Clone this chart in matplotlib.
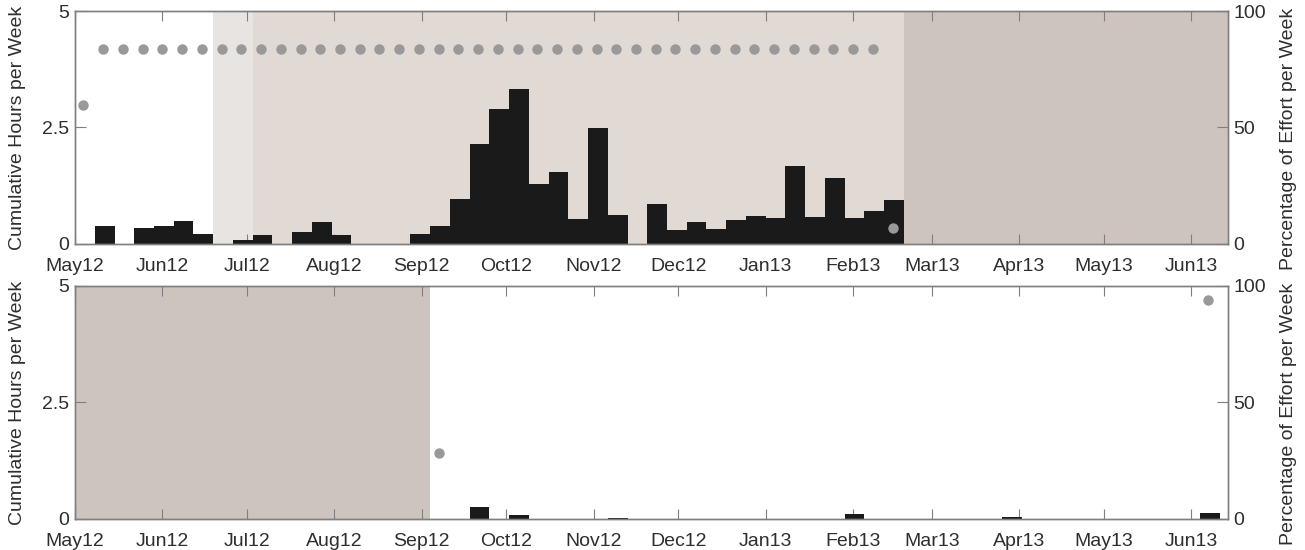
"""Weekly detection hours and effort, two sites, stacked panels."""

import datetime as dt

import matplotlib

matplotlib.use("Agg")
import matplotlib.dates as mdates
import matplotlib.pyplot as plt

BASE_DATE = dt.date(2012, 5, 1)
X_END = dt.date(2013, 6, 14)

# top panel: week index (weeks counted from BASE_DATE) -> cumulative hours
TOP_BAR_WEEKS = [1, 3, 4, 5, 6, 8, 9, 11, 12, 13, 17, 18, 19, 20, 21, 22, 23,
                 24, 25, 26, 27, 29, 30, 31, 32, 33, 34, 35, 36, 37, 38, 39,
                 40, 41]
TOP_BAR_HOURS = [0.39, 0.35, 0.39, 0.50, 0.21, 0.09, 0.19, 0.26, 0.47, 0.19,
                 0.22, 0.39, 0.97, 2.15, 2.89, 3.33, 1.29, 1.54, 0.54, 2.48,
                 0.63, 0.86, 0.29, 0.47, 0.33, 0.52, 0.59, 0.55, 1.68, 0.58,
                 1.42, 0.55, 0.70, 0.95]
TOP_EFFORT_WEEKS = list(range(0, 42))
TOP_EFFORT_PCT = [59.5] + [83.5] * 40 + [7.0]
# shaded periods (start week, end week, colour)
TOP_SPANS = [(7, 9, "#e8e4e1"), (9, 42, "#e0d9d4"), (42, 59, "#cec4bf")]

BOTTOM_BAR_WEEKS = [20, 22, 27, 39, 47, 57]
BOTTOM_BAR_HOURS = [0.25, 0.08, 0.03, 0.10, 0.04, 0.13]
BOTTOM_EFFORT_WEEKS = [18, 57]
BOTTOM_EFFORT_PCT = [28.5, 94.0]
BOTTOM_SPANS = [(0, 18, "#cec4bf")]

MONTH_TICKS = [dt.date(2012, m, 1) for m in range(5, 13)] + \
              [dt.date(2013, m, 1) for m in range(1, 7)]

BAR_COLOR = "#1a1a1a"
DOT_COLOR = "#999999"
SPINE_COLOR = "#7f7f7f"
TEXT_COLOR = "#2e2e2e"
FONT_SIZE = 14

plt.rcParams["font.family"] = ["Liberation Sans", "DejaVu Sans"]


def week_start(week):
    return BASE_DATE + dt.timedelta(days=7 * week)


def week_mid(week):
    return BASE_DATE + dt.timedelta(days=7 * week + 3.5)


def draw_panel(axis, bar_weeks, bar_hours, effort_weeks, effort_pct, spans):
    for start, end, color in spans:
        axis.axvspan(week_start(start), week_start(end), color=color,
                     linewidth=0, zorder=0)
    axis.bar([week_start(w) for w in bar_weeks], bar_hours,
             width=dt.timedelta(days=7), align="edge", color=BAR_COLOR,
             linewidth=0, zorder=2)
    axis.set_xlim(BASE_DATE, X_END)
    axis.set_ylim(0, 5)
    axis.set_yticks([0, 2.5, 5])
    axis.set_yticklabels(["0", "2.5", "5"])
    axis.set_xticks(MONTH_TICKS)
    axis.xaxis.set_major_formatter(mdates.DateFormatter("%b%y"))
    axis.tick_params(axis="x", direction="in", length=7, width=0.8,
                     color=SPINE_COLOR, labelsize=FONT_SIZE,
                     labelcolor=TEXT_COLOR, pad=10, top=True)
    axis.tick_params(axis="y", direction="in", length=8, width=0.8,
                     color=SPINE_COLOR, labelsize=FONT_SIZE,
                     labelcolor=TEXT_COLOR, pad=4)
    axis.set_ylabel("Cumulative Hours per Week", fontsize=FONT_SIZE,
                    color=TEXT_COLOR)
    axis.yaxis.set_label_coords(-0.0425, 0.5)
    for spine in axis.spines.values():
        spine.set_color(SPINE_COLOR)
        spine.set_linewidth(1.0)

    right = axis.twinx()
    right.plot([week_mid(w) for w in effort_weeks], effort_pct, linestyle="none",
               marker="o", markersize=7.5, color=DOT_COLOR,
               markeredgewidth=0, zorder=3)
    right.set_xlim(BASE_DATE, X_END)
    right.set_ylim(0, 100)
    right.set_yticks([0, 50, 100])
    right.tick_params(axis="y", direction="in", length=8, width=0.8,
                      color=SPINE_COLOR, labelsize=FONT_SIZE,
                      labelcolor=TEXT_COLOR, pad=4)
    right.set_ylabel("Percentage of Effort per Week", fontsize=FONT_SIZE,
                     color=TEXT_COLOR)
    right.yaxis.set_label_coords(1.045, 0.45)
    for spine in right.spines.values():
        spine.set_color(SPINE_COLOR)
        spine.set_linewidth(1.0)


figure = plt.figure(figsize=(13.05, 5.5), dpi=100)
top_axis = figure.add_axes([0.0575, 0.5564, 0.8835, 0.4236])
bottom_axis = figure.add_axes([0.0575, 0.0564, 0.8835, 0.4236])

draw_panel(top_axis, TOP_BAR_WEEKS, TOP_BAR_HOURS, TOP_EFFORT_WEEKS,
           TOP_EFFORT_PCT, TOP_SPANS)
draw_panel(bottom_axis, BOTTOM_BAR_WEEKS, BOTTOM_BAR_HOURS,
           BOTTOM_EFFORT_WEEKS, BOTTOM_EFFORT_PCT, BOTTOM_SPANS)

figure.savefig("out.png", dpi=100)
plt.close(figure)
